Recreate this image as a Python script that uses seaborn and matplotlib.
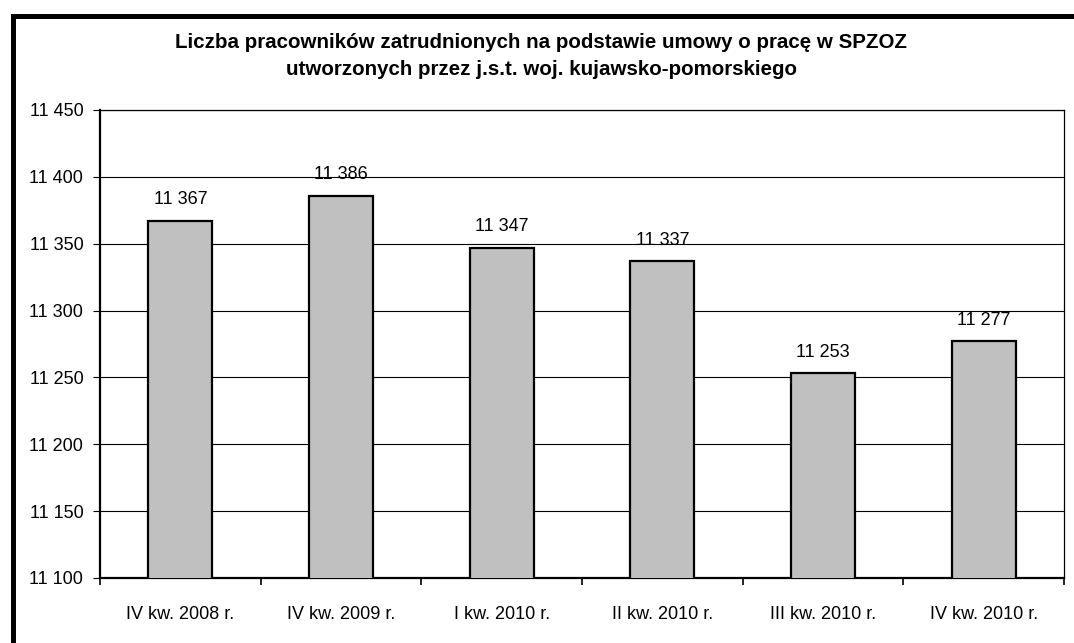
import matplotlib
matplotlib.use("Agg")
import matplotlib.pyplot as plt
import matplotlib.ticker as mticker
from matplotlib.patches import Rectangle
import pandas as pd
import seaborn as sns

# data
quarters = ["IV kw. 2008 r.", "IV kw. 2009 r.", "I kw. 2010 r.",
            "II kw. 2010 r.", "III kw. 2010 r.", "IV kw. 2010 r."]
employees = [11367, 11386, 11347, 11337, 11253, 11277]
y_ticks = [11100, 11150, 11200, 11250, 11300, 11350, 11400, 11450]
title = ("Liczba pracowników zatrudnionych na podstawie umowy o pracę w SPZOZ\n"
         "utworzonych przez j.s.t. woj. kujawsko-pomorskiego")

def spaced(v, pos=None):
    return f"{int(v):,}".replace(",", " ")

sns.set_theme(style="white")
plt.rcParams['font.family'] = ['Liberation Sans', 'DejaVu Sans']
plt.rcParams.update({"text.color": "black", "xtick.color": "black",
                     "ytick.color": "black", "axes.labelcolor": "black"})

W, H = 1074, 643
fig = plt.figure(figsize=(W / 100, H / 100), dpi=100)
ax = fig.add_axes([100 / W, 1 - 578 / H, 964 / W, 468 / H])

df = pd.DataFrame({"quarter": quarters, "employees": employees})
sns.barplot(data=df, x="quarter", y="employees", color="#c0c0c0", saturation=1,
            edgecolor="black", linewidth=1.6, width=0.4, ax=ax, zorder=3)

ax.set_ylim(y_ticks[0], y_ticks[-1])
ax.set_xlim(-0.5, len(quarters) - 0.5)
ax.set_yticks(y_ticks)
ax.yaxis.set_major_formatter(mticker.FuncFormatter(spaced))
ax.grid(axis="y", color="black", linewidth=0.8)
ax.set_axisbelow(True)

# category boundary ticks on x
ax.set_xticks(range(len(quarters)))
ax.set_xticklabels(quarters)
ax.set_xticks([i - 0.5 for i in range(len(quarters) + 1)], minor=True)
ax.tick_params(axis="x", which="major", length=0, pad=20, labelsize=13)
ax.tick_params(axis="x", which="minor", length=5, width=1.2, color="black", bottom=True)
ax.tick_params(axis="y", length=5, width=0.8, color="black", left=True, pad=7, labelsize=13)

for side in ["left", "bottom"]:
    ax.spines[side].set_linewidth(1.6)
for side in ["top", "right"]:
    ax.spines[side].set_linewidth(0.9)
for s in ax.spines.values():
    s.set_color("black")

ax.bar_label(ax.containers[0], labels=[spaced(v) for v in employees],
             padding=9, fontsize=13, color="black")

ax.set_xlabel("")
ax.set_ylabel("")

fig.text(541 / W, 1 - 56 / H, title, ha="center", va="center", fontsize=14.8,
         fontweight="bold", linespacing=1.5, color="black")

# outer chart frame (cut off on right and bottom)
fig.patches.append(Rectangle((12.5 / W, -0.1), 1.2, 1 - 15.5 / H + 0.1,
                             transform=fig.transFigure, fill=False,
                             edgecolor="black", linewidth=3.6))

fig.savefig("out.png", dpi=100)
